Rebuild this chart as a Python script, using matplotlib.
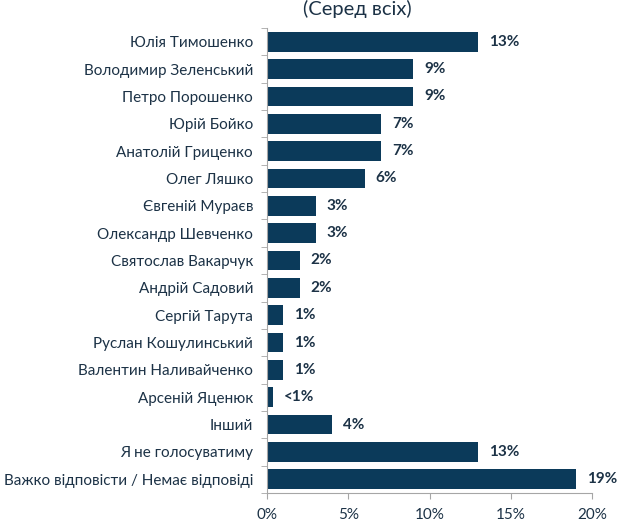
import matplotlib
matplotlib.use("Agg")
import matplotlib.pyplot as plt
import numpy as np
from matplotlib.ticker import FixedLocator, PercentFormatter

categories = [
    "Юлія Тимошенко", "Володимир Зеленський", "Петро Порошенко", "Юрій Бойко",
    "Анатолій Гриценко", "Олег Ляшко", "Євгеній Мураєв", "Олександр Шевченко",
    "Святослав Вакарчук", "Андрій Садовий", "Сергій Тарута", "Руслан Кошулинський",
    "Валентин Наливайченко", "Арсеній Яценюк", "Інший", "Я не голосуватиму",
    "Важко відповісти / Немає відповіді",
]
values = [13, 9, 9, 7, 7, 6, 3, 3, 2, 2, 1, 1, 1, 0.35, 4, 13, 19]
value_labels = ["13%", "9%", "9%", "7%", "7%", "6%", "3%", "3%", "2%", "2%",
                "1%", "1%", "1%", "<1%", "4%", "13%", "19%"]
x_ticks = [0, 5, 10, 15, 20]
title = "(Серед всіх)"

plt.rcParams['font.family'] = ['Lato', 'DejaVu Sans']
bar_color = "#0B3A5A"
text_color = "#1C3246"
spine_color = "#A6A6A6"

fig = plt.figure(figsize=(6.2, 5.23), dpi=100)
ax = fig.add_axes([267/620, 1 - 493/523, 325/620, 465/523])

y = np.arange(len(categories))
ax.barh(y, values, height=0.72, color=bar_color)
ax.set_ylim(len(categories) - 0.5, -0.5)
ax.set_xlim(0, 20)

ax.set_yticks(y)
ax.set_yticklabels(categories, fontsize=11, color=text_color)
ax.yaxis.set_minor_locator(FixedLocator(np.arange(-0.5, len(categories), 1.0)))
ax.tick_params(axis='y', which='major', length=0, pad=10)
ax.tick_params(axis='y', which='minor', length=4, color=spine_color, direction='out')

ax.set_xticks(x_ticks)
ax.xaxis.set_major_formatter(PercentFormatter(decimals=0))
ax.tick_params(axis='x', which='major', length=4, color=spine_color,
               labelsize=11, labelcolor=text_color, pad=7)

for s in ['top', 'right']:
    ax.spines[s].set_visible(False)
for s in ['left', 'bottom']:
    ax.spines[s].set_color(spine_color)

for yi, v, lab in zip(y, values, value_labels):
    ax.annotate(lab, (v, yi), xytext=(8, 0), textcoords='offset points',
                ha='left', va='center', fontsize=11, fontweight='bold', color=text_color)

fig.text(357/620, 1 - 9/523, title, ha='center', va='center', fontsize=14.5, color=text_color)

fig.savefig("out.png", dpi=100)
